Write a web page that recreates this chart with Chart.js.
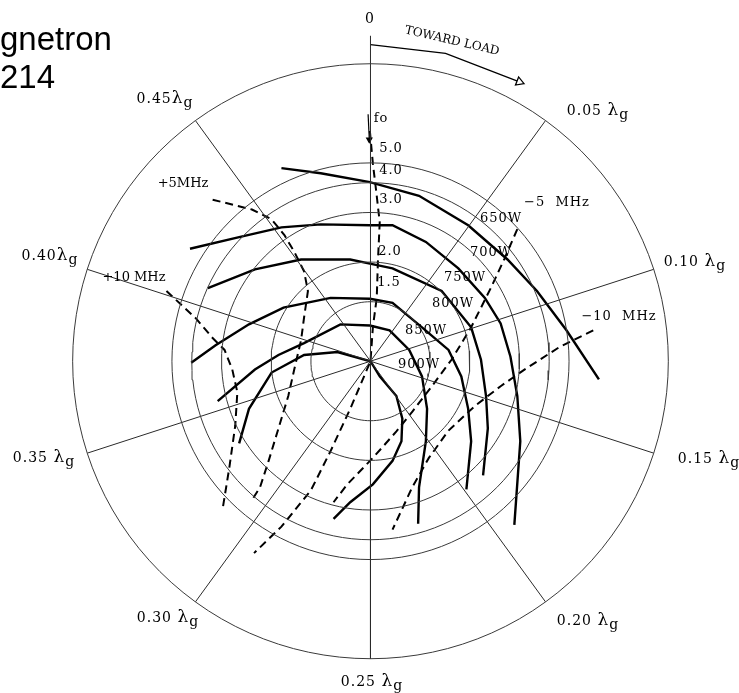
<!doctype html>
<html lang="en">
<head>
<meta charset="utf-8">
<title>Rieke diagram</title>
<script src="https://cdn.jsdelivr.net/npm/chart.js@4.4.0/dist/chart.umd.min.js"></script>
<style>
  html, body { margin:0; padding:0; background:#fff; }
  canvas { display:block; }
</style>
</head>
<body>
<canvas id="rieke" width="739" height="693"></canvas>
<script>
// VSWR circles and wavelength spokes of the chart
let vswrRings = [1.5, 2.0, 3.0, 4.0, 5.0];
let spokes = [0, 0.05, 0.10, 0.15, 0.20, 0.25, 0.30, 0.35, 0.40, 0.45];

// power contours, points as (real, imag) of the reflection coefficient
let p650 = [[-0.299,0.649],[-0.167,0.632],[-0.002,0.602],[0.163,0.556],[0.328,0.457],[0.460,0.342],[0.559,0.236],[0.658,0.104],[0.767,-0.061]];
let p700 = [[-0.606,0.378],[-0.441,0.417],[-0.299,0.450],[-0.167,0.460],[-0.002,0.457],[0.074,0.457],[0.186,0.401],[0.295,0.312],[0.384,0.213],[0.437,0.127],[0.470,0.015],[0.493,-0.117],[0.503,-0.269],[0.483,-0.550]];
let p750 = [[-0.546,0.246],[-0.388,0.309],[-0.233,0.342],[-0.068,0.342],[-0.002,0.328],[0.074,0.312],[0.239,0.236],[0.338,0.114],[0.371,0.005],[0.388,-0.117],[0.394,-0.226],[0.378,-0.384]];
let p800 = [[-0.602,-0.005],[-0.520,0.054],[-0.408,0.124],[-0.292,0.180],[-0.134,0.213],[-0.002,0.210],[0.074,0.196],[0.173,0.114],[0.262,0.038],[0.305,-0.051],[0.328,-0.160],[0.338,-0.269],[0.322,-0.431]];
let p850 = [[-0.513,-0.134],[-0.388,-0.028],[-0.309,0.021],[-0.223,0.061],[-0.101,0.124],[-0.002,0.120],[0.064,0.104],[0.130,0.038],[0.173,-0.051],[0.190,-0.160],[0.186,-0.269],[0.163,-0.424],[0.160,-0.546]];
let p900 = [[-0.441,-0.276],[-0.408,-0.160],[-0.332,-0.038],[-0.223,0.021],[-0.111,0.031],[0,0],[0.031,-0.051],[0.087,-0.117],[0.107,-0.193],[0.104,-0.269],[0.074,-0.335],[0.008,-0.414],[-0.068,-0.474],[-0.124,-0.530]];

// frequency pulling contours
let fo = [[-0.002,0.774],[0.008,0.665],[0.021,0.556],[0.031,0.467],[0.025,0.335],[0.021,0.213],[0.008,0.114],[0,0],[-0.068,-0.160],[-0.134,-0.302],[-0.200,-0.434],[-0.299,-0.556],[-0.391,-0.645]];
let plus5 = [[-0.530,0.543],[-0.398,0.510],[-0.332,0.477],[-0.289,0.424],[-0.256,0.368],[-0.223,0.302],[-0.210,0.236],[-0.223,0.147],[-0.233,0.071],[-0.256,-0.028],[-0.276,-0.117],[-0.309,-0.226],[-0.342,-0.335],[-0.371,-0.424],[-0.398,-0.467]];
let plus10 = [[-0.685,0.236],[-0.586,0.144],[-0.530,0.078],[-0.490,0.038],[-0.464,-0.028],[-0.447,-0.104],[-0.454,-0.216],[-0.474,-0.358],[-0.497,-0.500]];
let minus5 = [[0.493,0.444],[0.450,0.345],[0.404,0.246],[0.338,0.114],[0.272,0.005],[0.206,-0.084],[0.140,-0.170],[0.087,-0.236],[0.008,-0.325],[-0.078,-0.414],[-0.124,-0.474]];
let minus10 = [[0.748,0.104],[0.635,0.048],[0.517,-0.028],[0.437,-0.084],[0.351,-0.150],[0.262,-0.233],[0.196,-0.325],[0.140,-0.424],[0.074,-0.566]];

// direction arrows
let towardLoad = [[0,1.064],[0.252,1.035],[0.500,0.939]];
let foArrow = [[-0.008,0.83],[-0.004,0.745]];

const line = (pts, width, dash, color) => ({
  data: pts.map(p => ({x:p[0], y:p[1]})),
  showLine: true,
  borderColor: color || '#000',
  borderWidth: width,
  borderDash: dash || [],
  pointRadius: 0,
  fill: false,
  tension: 0
});

let datasets = [];

// grid: rings
vswrRings.concat([null]).forEach(s => {
  let g = s ? (s - 1) / (s + 1) : 1;
  let pts = [];
  for (let i = 0; i <= 120; i++) {
    let a = i / 120 * 2 * Math.PI;
    pts.push([g * Math.sin(a), g * Math.cos(a)]);
  }
  datasets.push(line(pts, 1, [], '#3a3a3a'));
});

// grid: spokes
spokes.forEach(pos => {
  let a = pos * 4 * Math.PI;
  let r = pos === 0 ? 1.094 : 1;
  datasets.push(line([[0,0],[r * Math.sin(a), r * Math.cos(a)]], 1, [], '#2a2a2a'));
});

[p650, p700, p750, p800, p850, p900].forEach(p => datasets.push(line(p, 2.4)));
[fo, plus5, plus10, minus5, minus10].forEach(p => datasets.push(line(p, 2, [8, 5])));

let arrow = line(towardLoad, 1.3);
arrow.pointRadius = [0, 0, 5];
arrow.pointStyle = 'triangle';
arrow.rotation = 111;
arrow.pointBackgroundColor = '#fff';
arrow.pointBorderColor = '#000';
arrow.pointBorderWidth = 1.3;
datasets.push(arrow);

let arrow2 = line(foArrow, 1.2);
arrow2.pointRadius = [0, 3];
arrow2.pointStyle = 'triangle';
arrow2.rotation = 180;
arrow2.pointBackgroundColor = '#000';
arrow2.pointBorderColor = '#000';
datasets.push(arrow2);

// lambda-g label: number, big lambda, subscript g
function lambdaLabel(ctx, num, x, y) {
  ctx.font = '14px "DejaVu Serif"';
  let w1 = ctx.measureText(num).width;
  ctx.font = '17px "DejaVu Serif"';
  let w2 = ctx.measureText('λ').width;
  ctx.font = '14px "DejaVu Serif"';
  let w3 = ctx.measureText('g').width;
  let x0 = x - (w1 + w2 + w3) / 2;
  ctx.textAlign = 'left';
  ctx.fillText(num, x0, y);
  ctx.font = '17px "DejaVu Serif"';
  ctx.fillText('λ', x0 + w1, y);
  ctx.font = '14px "DejaVu Serif"';
  ctx.fillText('g', x0 + w1 + w2, y + 4);
}

const textPlugin = {
  id: 'texts',
  afterDraw(chart) {
    let ctx = chart.ctx;
    ctx.save();
    ctx.fillStyle = '#000';
    ctx.textBaseline = 'middle';
    ctx.letterSpacing = '1px';

    ctx.font = '33px "Liberation Sans"';
    ctx.textAlign = 'left';
    ctx.textBaseline = 'alphabetic';
    ctx.letterSpacing = '0px';
    ctx.fillText('gnetron', 0, 50);
    ctx.fillText('214', 0, 88);

    ctx.textBaseline = 'middle';
    ctx.letterSpacing = '1px';
    ctx.textAlign = 'center';
    ctx.font = '14px "DejaVu Serif"';
    ctx.fillText('0', 370, 19);

    lambdaLabel(ctx, '0.05 ', 598, 111);
    lambdaLabel(ctx, '0.10 ', 695, 262);
    lambdaLabel(ctx, '0.15 ', 709, 459);
    lambdaLabel(ctx, '0.20 ', 588, 621);
    lambdaLabel(ctx, '0.25 ', 372, 682);
    lambdaLabel(ctx, '0.30 ', 168, 618);
    lambdaLabel(ctx, '0.35 ', 44, 458);
    lambdaLabel(ctx, '0.40', 50, 256);
    lambdaLabel(ctx, '0.45', 165, 99);

    ctx.font = '13px "DejaVu Serif"';
    ctx.textAlign = 'center';
    ctx.fillText('fo', 381, 119);
    ctx.fillText('5.0', 391, 149);
    ctx.fillText('4.0', 391, 171);
    ctx.fillText('3.0', 391, 200);
    ctx.fillText('2.0', 390, 252);
    ctx.fillText('1.5', 389, 283);

    ctx.fillText('650W', 501, 219);
    ctx.fillText('700W', 491, 253);
    ctx.fillText('750W', 465, 278);
    ctx.fillText('800W', 453, 304);
    ctx.fillText('850W', 426, 331);
    ctx.fillText('900W', 419, 365);

    ctx.fillText('\u22125  MHz', 557, 203);
    ctx.fillText('\u221210  MHz', 619, 317);
    ctx.letterSpacing = '0px';
    ctx.fillText('+5MHz', 183, 184);
    ctx.fillText('+10 MHz', 134, 278);

    // rotated direction text
    ctx.save();
    ctx.translate(452, 41);
    ctx.rotate(13 * Math.PI / 180);
    ctx.font = '12px "DejaVu Serif"';
    ctx.fillText('TOWARD LOAD', 0, 0);
    ctx.restore();

    ctx.restore();
  }
};

new Chart(document.getElementById('rieke'), {
  type: 'scatter',
  data: { datasets: datasets },
  options: {
    responsive: false,
    animation: false,
    layout: { padding: 0 },
    plugins: { legend: { display: false }, tooltip: { enabled: false } },
    scales: {
      x: { display: false, min: -370.5 / 303, max: (739 - 370.5) / 303 },
      y: { display: false, min: -(693 - 361.5) / 303, max: 361.5 / 303 }
    }
  },
  plugins: [textPlugin]
});
</script>
</body>
</html>
